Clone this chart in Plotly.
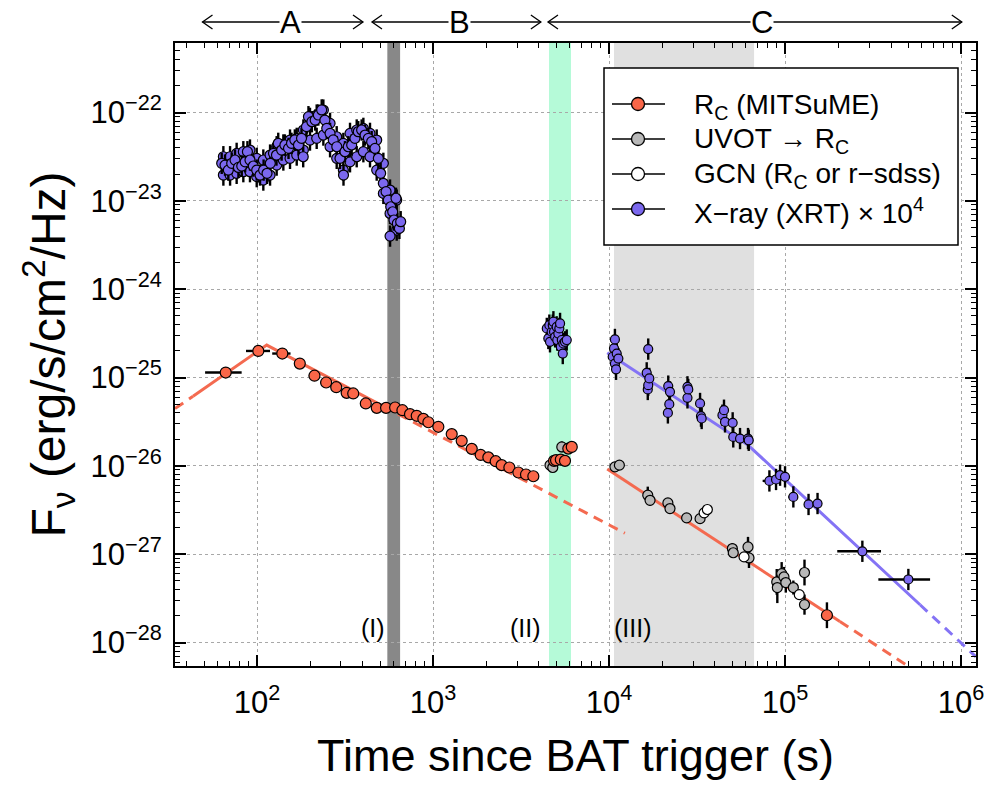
import math
import plotly.graph_objects as go

# ---------------- data ----------------
# MITSuME R_C
mitsume_t = [66.4, 101.7, 139.2, 175, 212, 247, 282, 323, 352, 415, 479, 541, 609, 670, 740, 808,
             881, 941, 1072, 1277, 1455, 1660, 1866, 2062, 2270, 2455, 2715, 3055, 3375, 3715,
             4870, 5000, 5320, 5620, 5870, 6140, 173000]
mitsume_f = [1.14e-25, 2.00e-25, 1.87e-25, 1.44e-25, 1.05e-25, 8.79e-26, 7.78e-26, 6.71e-26, 6.61e-26,
             5.09e-26, 4.54e-26, 4.54e-26, 4.58e-26, 4.27e-26, 3.85e-26, 3.69e-26, 3.41e-26, 3.12e-26,
             2.77e-26, 2.29e-26, 1.92e-26, 1.56e-26, 1.33e-26, 1.25e-26, 1.13e-26, 1.02e-26, 9.59e-27,
             8.42e-27, 7.99e-27, 7.64e-27, 1.14e-26, 1.16e-26, 1.18e-26, 1.14e-26, 1.57e-26, 1.64e-26,
             2.04e-28]
mitsume_t_minus = [15.7, 15.1, 17.2, 11, 15, 18, 20, 22, 24, 28, 30, 30, 30, 30, 35, 35,
                   35, 35, 40, 50, 60, 60, 60, 60, 60, 70, 80, 90, 100, 110,
                   150, 150, 150, 150, 150, 150, 0]
mitsume_t_plus = [15.4, 16.8, 15.8, 12, 15, 18, 20, 22, 24, 28, 30, 30, 30, 30, 35, 35,
                  35, 35, 40, 50, 60, 60, 60, 60, 60, 70, 80, 90, 100, 110,
                  150, 150, 150, 150, 150, 150, 0]
mitsume_relerr = [0.03] * 30 + [0.05, 0.05, 0.05, 0.05, 0.05, 0.05, 0.4]

# Swift/UVOT converted to R_C
uvot_t = [4620, 4790, 5390, 10800, 11450, 16600, 17100, 21600, 22200, 27600, 32900,
          50200, 50800, 61600, 62400, 89700, 90400, 95700, 98600, 101000, 111500, 129000, 129000]
uvot_f = [1.02e-26, 9.59e-27, 1.64e-26, 9.75e-27, 1.02e-26, 4.66e-27, 4.08e-27, 3.81e-27, 3.29e-27,
          2.58e-27, 2.53e-27, 1.16e-27, 1.04e-27, 1.21e-27, 9.08e-28, 4.86e-28, 4.20e-28, 6.04e-28,
          5.53e-28, 4.78e-28, 4.20e-28, 6.21e-28, 2.69e-28]
uvot_relerr = [0.05, 0.05, 0.15, 0.03, 0.03, 0.25, 0.15, 0.12, 0.10, 0.08, 0.05,
               0.15, 0.10, 0.30, 0.30, 0.40, 0.50, 0.35, 0.30, 0.30, 0.20, 0.40, 0.30]

# GCN (R_C or r-sdss)
gcn_t = [34700, 36200, 58500, 120500]
gcn_f = [2.94e-27, 3.21e-27, 9.33e-28, 3.49e-28]

# X-ray (XRT) x 1e4 : early flaring light curve (centre, upper and lower parts of the band)
xrt_early_t = [63.0, 65.8, 68.7, 71.8, 75.0, 78.4, 81.9, 85.6, 88.2, 91.2, 95.3, 99.6, 104, 109, 114,
               119, 124, 129, 132, 138, 144, 151, 157, 164, 172, 179, 183, 191, 196, 205, 214, 223,
               233, 243, 249, 260, 271, 284, 296, 310, 316, 330, 345, 360, 376, 393, 411, 429, 448,
               468, 489, 504, 522, 541, 557, 570, 575, 590, 600, 616, 627, 644, 655]
xrt_early_f = [2.66e-23, 2.54e-23, 2.23e-23, 2.66e-23, 2.90e-23, 2.39e-23, 2.48e-23, 2.77e-23, 3.60e-23,
               2.90e-23, 2.48e-23, 2.23e-23, 1.96e-23, 2.23e-23, 2.05e-23, 2.66e-23, 3.45e-23, 3.30e-23,
               4.48e-23, 3.76e-23, 4.29e-23, 3.93e-23, 4.48e-23, 4.89e-23, 4.29e-23, 5.10e-23, 3.16e-23,
               6.92e-23, 8.97e-23, 7.87e-23, 8.22e-23, 9.37e-23, 1.07e-22, 8.22e-23, 6.62e-23, 5.81e-23,
               4.89e-23, 4.10e-23, 3.03e-23, 1.96e-23, 3.60e-23, 4.10e-23, 4.29e-23, 5.10e-23, 6.07e-23,
               6.34e-23, 5.56e-23, 5.10e-23, 4.68e-23, 3.93e-23, 3.03e-23, 2.05e-23, 1.58e-23, 1.27e-23,
               1.02e-23, 3.99e-24, 8.58e-24, 7.53e-24, 6.07e-24, 1.07e-23, 5.56e-24, 4.88e-24, 5.81e-24]
xrt_edge_t = [64.4, 70.3, 76.6, 83.6, 91.2, 99.6, 108.6, 118.6, 129.3, 141.1, 154.0, 168.1, 183.4,
              200.0, 218.3, 238.2, 260.0, 283.6, 309.4, 337.6, 368.5, 402.1, 438.5, 478.6, 522.2,
              569.9, 621.9]
xrt_upper_f = [3.16e-23, 3.16e-23, 3.45e-23, 3.60e-23, 3.76e-23, 3.03e-23, 2.90e-23, 3.30e-23, 4.10e-23,
               4.29e-23, 4.88e-23, 5.10e-23, 6.34e-23, 8.59e-23, 9.37e-23, 1.067e-22, 7.54e-23, 5.32e-23,
               4.47e-23, 5.81e-23, 6.34e-23, 6.62e-23, 5.81e-23, 4.88e-23, 2.66e-23, 1.325e-23, 1.02e-23]
xrt_lower_f = [1.96e-23, 1.96e-23, 2.05e-23, 2.14e-23, 2.14e-23, 1.88e-23, 1.72e-23, 1.96e-23, 2.54e-23,
               2.90e-23, 3.03e-23, 3.30e-23, 3.76e-23, 4.88e-23, 5.10e-23, 5.56e-23, 4.10e-23, 3.03e-23,
               2.23e-23, 2.77e-23, 3.16e-23, 3.60e-23, 3.16e-23, 2.23e-23, 1.215e-23, 7.21e-24, 4.67e-24]

# X-ray (XRT) x 1e4 : later epochs
xrt_late_t = [4430, 4520, 4580, 4620, 4720, 4790, 4830, 4870, 4940, 5040, 5080, 5150, 5220, 5270,
              5320, 5390, 5460, 5500, 5620, 5750,
              10490, 10670, 10800, 10800, 10960, 11060, 11300, 16370, 16600, 16700, 16700, 16940,
              21600, 21700, 22000, 22200, 27900, 27900, 28200, 32900, 33300, 33600, 44100, 45000,
              45600, 50400, 50800, 55500, 61600, 62200,
              81500, 88900, 93700, 100000, 111500, 136000, 153000, 275000, 502000]
xrt_late_f = [3.60e-25, 2.77e-25, 3.92e-25, 2.54e-25, 3.30e-25, 3.92e-25, 4.28e-25, 3.30e-25, 2.89e-25,
              3.75e-25, 2.66e-25, 3.15e-25, 3.60e-25, 4.10e-25, 2.23e-25, 2.66e-25, 1.87e-25, 2.43e-25,
              2.54e-25, 2.66e-25,
              1.72e-25, 2.14e-25, 2.70e-25, 1.44e-25, 1.24e-25, 1.87e-25, 1.64e-25, 1.13e-25, 7.33e-26,
              2.10e-25, 8.20e-26, 9.77e-26, 3.98e-26, 8.00e-26, 5.00e-26, 6.89e-26, 7.85e-26, 5.89e-26,
              7.33e-26, 5.09e-26, 3.66e-26, 3.44e-26, 3.75e-26, 4.27e-26, 3.15e-26, 3.07e-26, 2.13e-26,
              2.04e-26, 2.04e-26, 1.95e-26,
              6.76e-27, 7.02e-27, 7.85e-27, 7.52e-27, 4.46e-27, 3.66e-27, 3.75e-27, 1.08e-27, 5.18e-28]
xrt_late_t_minus = [0] * 50 + [6900, 6000, 5000, 5000, 7000, 6000, 6000, 77000, 163000]
xrt_late_t_plus = [0] * 50 + [7400, 6000, 5000, 5000, 7000, 6000, 6000, 76000, 165000]
xrt_relerr = 0.32

# Power-law fits (break points of the broken lines)
opt1_dash_a_t = [34.2, 43.3]
opt1_dash_a_f = [4.45e-26, 6.15e-26]
opt1_solid_t = [43.3, 113.5, 520]
opt1_solid_f = [6.15e-26, 2.33e-25, 4.74e-26]
opt1_dash_b_t = [520, 12300]
opt1_dash_b_f = [4.74e-26, 1.73e-27]
opt2_solid_t = [9770, 205000]
opt2_solid_f = [9.2e-27, 1.73e-28]
opt2_dash_t = [205000, 513000]
opt2_dash_f = [1.73e-28, 5.24e-29]
xrt_fit_solid_t = [9770, 61870, 585000]
xrt_fit_solid_f = [1.905e-25, 1.71e-26, 2.68e-28]
xrt_fit_dash_t = [585000, 1216000]
xrt_fit_dash_f = [2.68e-28, 6.9e-29]

# Shaded epochs (s)
band_I = [550, 650]
band_II = [4560, 6080]
band_III = [10670, 66700]
band_labels = ["(I)", "(II)", "(III)"]
band_label_t = [455, 3350, 13600]

# Phase arrows (s)
phase_names = ["A", "B", "C"]
phase_start = [49, 450, 4500]
phase_end = [400, 4100, 1010000]
phase_label_t = [154, 1422, 74000]

# Axis ticks
x_major = [1e2, 1e3, 1e4, 1e5, 1e6]
x_major_text = ["10<sup>2</sup>", "10<sup>3</sup>", "10<sup>4</sup>", "10<sup>5</sup>", "10<sup>6</sup>"]
y_major = [1e-28, 1e-27, 1e-26, 1e-25, 1e-24, 1e-23, 1e-22]
y_major_text = ["10<sup>\u221228</sup>", "10<sup>\u221227</sup>", "10<sup>\u221226</sup>",
                "10<sup>\u221225</sup>", "10<sup>\u221224</sup>", "10<sup>\u221223</sup>",
                "10<sup>\u221222</sup>"]
x_minor = [m * 10 ** e for e in range(1, 7) for m in range(2, 10)]
y_minor = [m * 10.0 ** e for e in range(-29, -21) for m in range(2, 10)]

# Legend
legend_names = ["R<sub>C</sub> (MITSuME)", "UVOT \u2192 R<sub>C</sub>",
                "GCN (R<sub>C</sub> or r\u2212sdss)", "X\u2212ray (XRT) \u00d7 10<sup>4</sup>"]

# ---------------- styling ----------------
FONT = "Liberation Sans, Arial, Helvetica, sans-serif"
ORANGE = "#fa6648"
ORANGE_LINE = "#f46a50"
BLUE = "#7b68ee"
BLUE_LINE = "#8473f5"
GREY = "#b8b8b8"
legend_colors = [ORANGE, GREY, "white", BLUE]

XMIN, XMAX = 1.534, 6.085
YMIN, YMAX = -28.265, -21.213
PLOT_W, PLOT_H = 801, 623


def xpaper(t):
    return (math.log10(t) - XMIN) / (XMAX - XMIN)


def yerr(f, rel):
    if isinstance(rel, (int, float)):
        rel = [rel] * len(f)
    plus = [v * r for v, r in zip(f, rel)]
    minus = [v * r / (1 + r) for v, r in zip(f, rel)]
    return plus, minus


fig = go.Figure()


def add_line(t, f, color, dash):
    fig.add_trace(go.Scatter(x=t, y=f, mode="lines", showlegend=False, hoverinfo="skip",
                             line=dict(color=color, width=3, dash=dash)))


add_line(opt1_dash_a_t, opt1_dash_a_f, ORANGE_LINE, "10px,7px")
add_line(opt1_solid_t, opt1_solid_f, ORANGE_LINE, "solid")
add_line(opt1_dash_b_t, opt1_dash_b_f, ORANGE_LINE, "10px,7px")
add_line(opt2_solid_t, opt2_solid_f, ORANGE_LINE, "solid")
add_line(opt2_dash_t, opt2_dash_f, ORANGE_LINE, "10px,7px")
add_line(xrt_fit_solid_t, xrt_fit_solid_f, BLUE_LINE, "solid")
add_line(xrt_fit_dash_t, xrt_fit_dash_f, BLUE_LINE, "10px,7px")

ERR = dict(type="data", color="black", thickness=2.4, width=0)

p, m = yerr(uvot_f, uvot_relerr)
fig.add_trace(go.Scatter(x=uvot_t, y=uvot_f, mode="markers", showlegend=False,
                         marker=dict(size=10, color=GREY, line=dict(color="black", width=1.2)),
                         error_y=dict(ERR, array=p, arrayminus=m)))
fig.add_trace(go.Scatter(x=gcn_t, y=gcn_f, mode="markers", showlegend=False,
                         marker=dict(size=10, color="white", line=dict(color="black", width=1.2))))
p, m = yerr(mitsume_f, mitsume_relerr)
fig.add_trace(go.Scatter(x=mitsume_t, y=mitsume_f, mode="markers", showlegend=False,
                         marker=dict(size=11, color=ORANGE, line=dict(color="black", width=1.2)),
                         error_y=dict(ERR, array=p, arrayminus=m),
                         error_x=dict(ERR, array=mitsume_t_plus, arrayminus=mitsume_t_minus)))

for tt, ff in [(xrt_edge_t, xrt_upper_f), (xrt_edge_t, xrt_lower_f), (xrt_early_t, xrt_early_f)]:
    p, m = yerr(ff, xrt_relerr)
    fig.add_trace(go.Scatter(x=tt, y=ff, mode="markers", showlegend=False,
                             marker=dict(size=10, color=BLUE, line=dict(color="black", width=1.2)),
                             error_y=dict(ERR, array=p, arrayminus=m)))
p, m = yerr(xrt_late_f, xrt_relerr)
fig.add_trace(go.Scatter(x=xrt_late_t, y=xrt_late_f, mode="markers", showlegend=False,
                         marker=dict(size=9, color=BLUE, line=dict(color="black", width=1.2)),
                         error_y=dict(ERR, array=p, arrayminus=m),
                         error_x=dict(ERR, array=xrt_late_t_plus, arrayminus=xrt_late_t_minus)))

shapes = []
for (a, b), col in zip([band_I, band_II, band_III], ["#888888", "#b5fad8", "#e0e0e0"]):
    shapes.append(dict(type="rect", xref="x", yref="paper", x0=a, x1=b, y0=0, y1=1,
                       fillcolor=col, line=dict(width=0), layer="below"))

annotations = []

# phase arrows above the frame
ARROW_Y = 1.0337
for name, a, b, c in zip(phase_names, phase_start, phase_end, phase_label_t):
    xa, xb = xpaper(a), xpaper(b)
    shapes.append(dict(type="line", xref="paper", yref="paper", x0=xa, x1=xb, y0=ARROW_Y, y1=ARROW_Y,
                       line=dict(color="black", width=1.3)))
    shapes.append(dict(type="path", xref="paper", yref="paper", xsizemode="pixel", ysizemode="pixel",
                       xanchor=xa, yanchor=ARROW_Y, path="M 10,7 L 0,0 L 10,-7",
                       line=dict(color="black", width=1.3)))
    shapes.append(dict(type="path", xref="paper", yref="paper", xsizemode="pixel", ysizemode="pixel",
                       xanchor=xb, yanchor=ARROW_Y, path="M -10,7 L 0,0 L -10,-7",
                       line=dict(color="black", width=1.3)))
    annotations.append(dict(xref="paper", yref="paper", x=xpaper(c), y=ARROW_Y, text=name,
                            showarrow=False, font=dict(size=31, color="black", family=FONT),
                            bgcolor="white", borderpad=0, xanchor="center", yanchor="middle"))

for lab, t in zip(band_labels, band_label_t):
    annotations.append(dict(xref="x", yref="paper", x=math.log10(t), y=0.061, text=lab,
                            showarrow=False, font=dict(size=25, color="black", family=FONT),
                            xanchor="center", yanchor="middle"))

# hand-built legend (box, line-through-marker symbols, labels)
LEG_X0, LEG_X1 = 429 / PLOT_W, 783 / PLOT_W
LEG_Y1, LEG_Y0 = 1 - 25 / PLOT_H, 1 - 202 / PLOT_H
shapes.append(dict(type="rect", xref="paper", yref="paper", x0=LEG_X0, x1=LEG_X1, y0=LEG_Y0, y1=LEG_Y1,
                   fillcolor="white", line=dict(color="black", width=1.5), layer="above"))
for i, (name, col) in enumerate(zip(legend_names, legend_colors)):
    yy = 1 - (61 + 35 * i) / PLOT_H
    xl0, xl1 = 437 / PLOT_W, 490 / PLOT_W
    xm = 463 / PLOT_W
    shapes.append(dict(type="line", xref="paper", yref="paper", x0=xl0, x1=xl1, y0=yy, y1=yy,
                       line=dict(color="black", width=1.5), layer="above"))
    shapes.append(dict(type="circle", xref="paper", yref="paper", xsizemode="pixel", ysizemode="pixel",
                       xanchor=xm, yanchor=yy, x0=-6.5, x1=6.5, y0=-6.5, y1=6.5,
                       fillcolor=col, line=dict(color="black", width=1.3), layer="above"))
    annotations.append(dict(xref="paper", yref="paper", x=517 / PLOT_W, y=yy - 2 / PLOT_H, text=name,
                            showarrow=False, xanchor="left", yanchor="middle",
                            font=dict(size=28, color="black", family=FONT)))

axis_common = dict(type="log", showline=True, linecolor="black", linewidth=2, mirror="allticks",
                   ticks="inside", ticklen=11, tickwidth=1.5, tickcolor="black",
                   showgrid=True, gridcolor="#a8a8a8", gridwidth=1, griddash="dot",
                   zeroline=False, automargin=False, tickmode="array",
                   tickfont=dict(size=31, color="black", family=FONT))
minor_common = dict(tickmode="array", ticks="inside", ticklen=5, tickwidth=1.2, tickcolor="black",
                    showgrid=False)

fig.update_xaxes(**axis_common, range=[XMIN, XMAX], tickvals=x_major, ticktext=x_major_text,
                 minor=dict(minor_common, tickvals=x_minor),
                 title=dict(text="Time since BAT trigger (s)", font=dict(size=45, color="black",
                                                                         family=FONT), standoff=20),
                 ticklabelstandoff=8)
fig.update_yaxes(**axis_common, range=[YMIN, YMAX], tickvals=y_major, ticktext=y_major_text,
                 minor=dict(minor_common, tickvals=y_minor),
                 title=dict(text="F<sub>\u03bd</sub> (erg/s/cm<sup>2</sup>/Hz)",
                            font=dict(size=48, color="black", family=FONT), standoff=10),
                 ticklabelstandoff=5)

fig.update_layout(
    width=989, height=790,
    margin=dict(l=175, r=13, t=43, b=124, autoexpand=False),
    paper_bgcolor="white", plot_bgcolor="white",
    font=dict(family=FONT, color="black"),
    shapes=shapes, annotations=annotations,
    showlegend=False,
)

# remove the default 8px page margin so the figure sits at the window's corner; hide the modebar
fig.write_html("out.html", config={"displayModeBar": False},
               post_script="document.body.style.margin='0px';")
